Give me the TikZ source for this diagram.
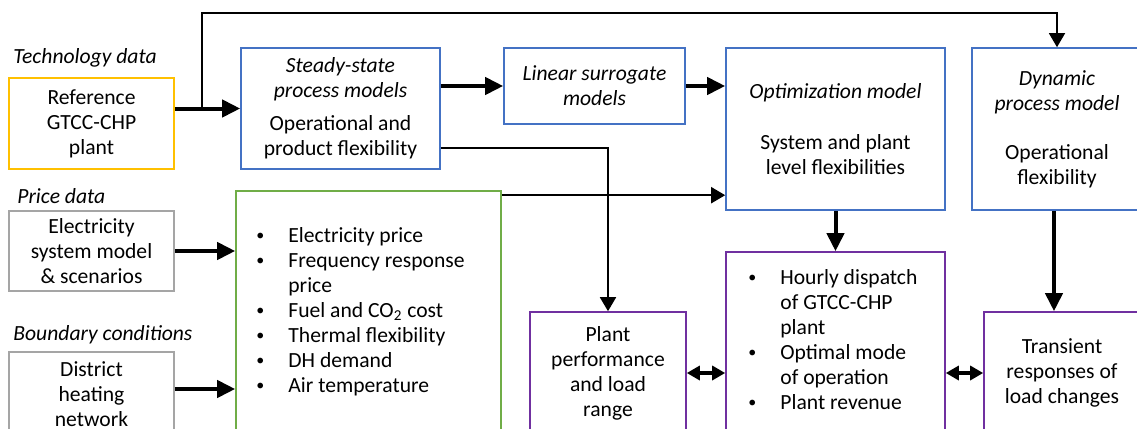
\documentclass[tikz,border=0pt]{standalone}
\usepackage{fontspec}
\setmainfont{Carlito}
\usetikzlibrary{arrows.meta,calc}
\definecolor{cyel}{HTML}{FFC000}
\definecolor{cblue}{HTML}{4472C4}
\definecolor{cgreen}{HTML}{70AD47}
\definecolor{cgray}{HTML}{A5A5A5}
\definecolor{cpurple}{HTML}{7030A0}
\newcommand{\smallbul}{\raisebox{0.6pt}{\fontsize{8}{8}\selectfont\textbullet}}
\begin{document}
\begin{tikzpicture}[x=0.5pt,y=-0.5pt,
  font=\fontsize{10.8}{12.5}\selectfont,
  box/.style={draw, line width=0.8pt, inner sep=0pt, align=center},
  lbl/.style={anchor=west, inner sep=0pt, font=\fontsize{10.8}{12.5}\selectfont\itshape},
  listtext/.style={anchor=west, inner sep=0pt, align=left},
  bigarrow/.style={line width=2pt, -{Triangle[length=9pt,width=8.5pt]}},
  thinarrow/.style={line width=0.9pt, -{Triangle[length=7pt,width=8pt]}},
  dblarrow/.style={line width=2pt, {Triangle[length=6.5pt,width=7pt]}-{Triangle[length=6.5pt,width=7pt]}}]
\useasboundingbox (0,0) rectangle (1137,429);
\clip (0,0) rectangle (1137,429);

% labels
\node[lbl] (techlbl) at (13,58) {Technology data};
\node[lbl] (pricelbl) at (17,196) {Price data};
\node[lbl] (boundlbl) at (13,335) {Boundary conditions};

% left boxes
\node[box, draw=cyel, minimum width=82.5pt, minimum height=45.5pt] (ref) at (91.5,123.5)
  {Reference\\GTCC-CHP\\plant};
\node[box, draw=cgray, minimum width=82.5pt, minimum height=40pt] (elec) at (91.5,251)
  {Electricity\\system model\\\& scenarios};
\node[box, draw=cgray, minimum width=82.5pt, minimum height=42pt] (dist) at (91.5,394)
  {District\\heating\\network};

% blue boxes
\node[box, draw=cblue, minimum width=99.5pt, minimum height=60.5pt] (steady) at (340.5,108.5)
  {\textit{Steady-state}\\\textit{process models}\\[4pt]Operational and\\product flexibility};
\node[box, draw=cblue, minimum width=90.5pt, minimum height=38pt] (linear) at (594.5,86)
  {\textit{Linear surrogate}\\\textit{models}};
\node[box, draw=cblue, minimum width=109.5pt, minimum height=81pt] (optim) at (835.5,129)
  {\textit{Optimization model}\\[13pt]System and plant\\level flexibilities};
\node[box, draw=cblue, minimum width=85pt, minimum height=81pt] (dyn) at (1057,129)
  {\textit{Dynamic}\\\textit{process model}\\[12pt]Operational\\flexibility};

% green box
\node[box, draw=cgreen, minimum width=132.5pt, minimum height=124.5pt] (green) at (368.5,315.5) {};
\node[listtext] (greentext) at (256,312) {%
  \begin{tabular}{@{}p{16pt}@{}l@{}}
  \smallbul & Electricity price\\
  \smallbul & Frequency response\\
              & price\\
  \smallbul & Fuel and CO\textsubscript{2} cost\\
  \smallbul & Thermal flexibility\\
  \smallbul & DH demand\\
  \smallbul & Air temperature
  \end{tabular}};

% purple boxes
\node[box, draw=cpurple, minimum width=78pt, minimum height=61pt] (plant) at (608,373)
  {Plant\\performance\\and load\\range};
\node[box, draw=cpurple, minimum width=109.5pt, minimum height=121pt] (hourly) at (835.5,373) {};
\node[listtext] (hourlytext) at (748,341.5) {%
  \begin{tabular}{@{}p{16pt}@{}l@{}}
  \smallbul & Hourly dispatch\\
              & of GTCC-CHP\\
              & plant\\
  \smallbul & Optimal mode\\
              & of operation\\
  \smallbul & Plant revenue
  \end{tabular}};
\node[box, draw=cpurple, minimum width=78pt, minimum height=61pt] (trans) at (1062,373)
  {Transient\\responses of\\load changes};

% connectors
\coordinate (split) at (202,108.5);
\coordinate (topleft) at (202,13);
\draw[bigarrow] (ref.east |- steady.west) -- (steady.west);
\draw[thinarrow, line width=0.7pt] (split) -- (topleft) -| (dyn.north);
\draw[bigarrow] (steady.east |- linear.west) -- (linear.west);
\draw[bigarrow] (linear.east) -- (linear.east -| optim.west);
\draw[thinarrow] ([yshift=-19.75pt]steady.east) -| (plant.north);
\draw[thinarrow] ([yshift=-2.5pt]green.north east) -- ([yshift=-2.5pt]green.north east -| optim.west);
\draw[bigarrow] (optim.south) -- (hourly.north);
\draw[bigarrow] ([xshift=-1.5pt]dyn.south) -- ([xshift=-1.5pt]dyn.south |- trans.north);
\draw[bigarrow] (elec.east) -- (elec.east -| green.west);
\draw[bigarrow] ([yshift=2.5pt]dist.east) -- ([yshift=2.5pt]dist.east -| green.west);
\draw[dblarrow] (plant.east) -- (hourly.west);
\draw[dblarrow] (hourly.east) -- (trans.west);
\end{tikzpicture}
\end{document}
